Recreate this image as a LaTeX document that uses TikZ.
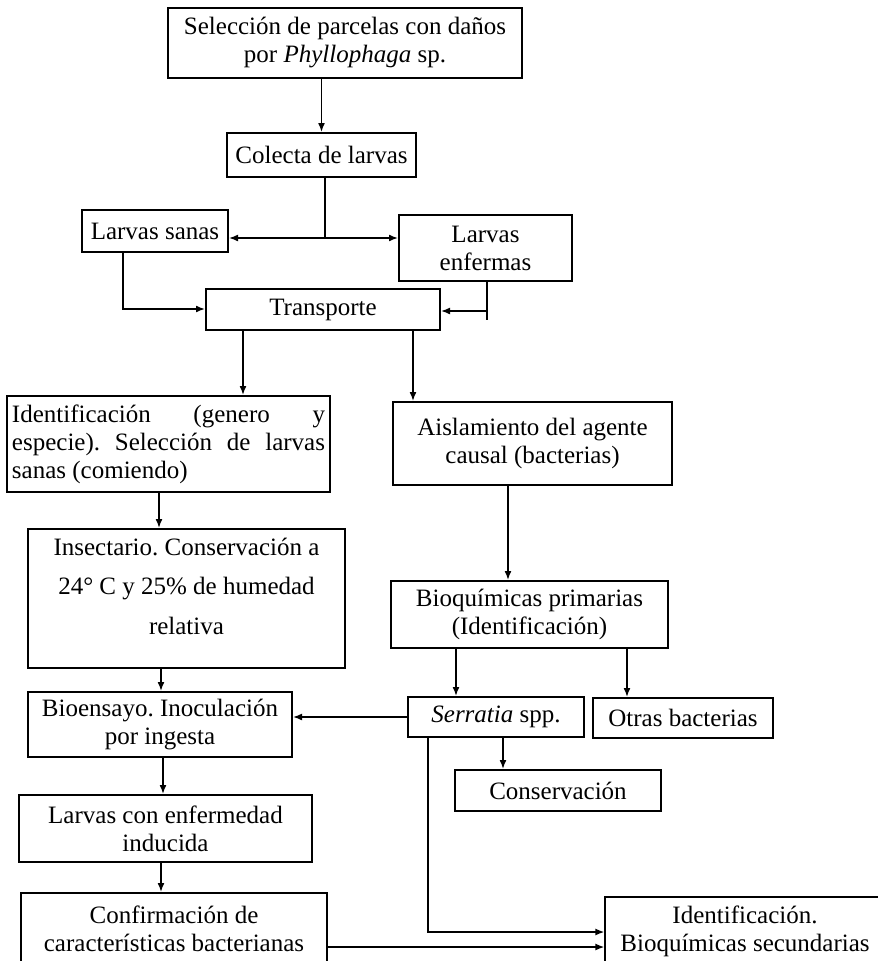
\documentclass[tikz,border=0pt]{standalone}
\usepackage{fontspec}
\setmainfont{Liberation Serif}
\usetikzlibrary{arrows.meta}
\frenchspacing
\begin{document}
\begin{tikzpicture}[x=1pt,y=-1pt,
  box/.style={draw, line width=2pt, inner sep=0pt, align=center, font=\fontsize{25}{28}\selectfont},
  conn/.style={line width=1.6pt},
  arr/.style={conn, -{Latex[length=9pt,width=7pt]}}]
\useasboundingbox (0,0) rectangle (878,961);
\fill[white] (0,0) rectangle (878,961);

\node[box, minimum width=354pt, minimum height=70pt] (sel) at (345,43) {Selección de parcelas con daños\\por \textit{Phyllophaga} sp.};
\node[box, minimum width=189pt, minimum height=44pt] (col) at (321.5,155) {Colecta de larvas};
\node[box, minimum width=146pt, minimum height=42pt] (san) at (155,231) {Larvas sanas};
\node[box, minimum width=173pt, minimum height=66pt] (enf) at (485.5,248) {Larvas\\enfermas};
\node[box, minimum width=234pt, minimum height=41pt] (tra) at (323,309.5) {Transporte};
\node[box, minimum width=323pt, minimum height=96pt, text width=313pt, align=justify] (ide) at (168.5,444) {Identificación (genero y\linebreak especie). Selección de larvas\linebreak sanas (comiendo)};
\node[box, minimum width=279pt, minimum height=83pt] (ais) at (532.5,443.5) {Aislamiento del agente\\causal (bacterias)};
\node[box] (ins) at (186.5,598.5) {\begin{minipage}[c][139pt][t]{317pt}\centering\fontsize{25}{39.5}\selectfont\vspace*{9pt}Insectario. Conservación a\\24° C y 25\% de humedad\\relativa\end{minipage}};
\node[box, minimum width=277pt, minimum height=67pt] (bpr) at (529.5,614.5) {Bioquímicas primarias\\(Identificación)};
\node[box, minimum width=264pt, minimum height=65pt] (bio) at (160,724.5) {Bioensayo. Inoculación\\por ingesta};
\node[box, minimum width=176pt, minimum height=40pt] (ser) at (496,717) {\textit{Serratia} spp.};
\node[box, minimum width=180pt, minimum height=40pt] (otr) at (683,718) {Otras bacterias};
\node[box, minimum width=206pt, minimum height=41pt] (cns) at (558,790.5) {Conservación};
\node[box, minimum width=293pt, minimum height=67pt] (lce) at (165.5,828.5) {Larvas con enfermedad\\inducida};
\node[box, minimum width=306pt, minimum height=71pt] (cof) at (174,928.5) {Confirmación de\\características bacterianas};
\node[box, line width=1.2pt, minimum width=280pt, minimum height=68pt] (ids) at (745,931) {Identificación.\\Bioquímicas secundarias};

\draw[arr] (col.north |- sel.south) -- (col.north);
\coordinate (j) at (325,238);
\draw[conn] (j |- col.south) -- (j);
\draw[arr] (j) -- (san.east |- j);
\draw[arr] (j) -- (enf.west |- j);
\coordinate (s1) at (123,309);
\draw[arr] (s1 |- san.south) -- (s1) -- (tra.west |- s1);
\coordinate (e2) at (487,320);
\coordinate (e1) at (487,311);
\draw[conn] (e2 |- enf.south) -- (e2);
\draw[arr] (e1) -- (tra.east |- e1);
\coordinate (t1) at (243,0);
\draw[arr] (t1 |- tra.south) -- (t1 |- ide.north);
\coordinate (t2) at (413,0);
\draw[arr] (t2 |- tra.south) -- (t2 |- ais.north);
\coordinate (i1) at (159,0);
\draw[arr] (i1 |- ide.south) -- (i1 |- ins.north);
\coordinate (a1) at (508,0);
\draw[arr] (a1 |- ais.south) -- (a1 |- bpr.north);
\coordinate (i2) at (161,0);
\draw[arr] (i2 |- ins.south) -- (i2 |- bio.north);
\coordinate (b1) at (456,0);
\draw[arr] (b1 |- bpr.south) -- (b1 |- ser.north);
\coordinate (b2) at (627,0);
\draw[arr] (b2 |- bpr.south) -- (b2 |- otr.north);
\draw[arr] (ser.west) -- (bio.east |- ser.west);
\coordinate (c2) at (503,0);
\draw[arr] (c2 |- ser.south) -- (c2 |- cns.north);
\coordinate (b3) at (163,0);
\draw[arr] (b3 |- bio.south) -- (b3 |- lce.north);
\coordinate (l1) at (161,0);
\draw[arr] (l1 |- lce.south) -- (l1 |- cof.north);
\coordinate (s2) at (428,932);
\draw[arr] (s2 |- ser.south) -- (s2) -- (ids.west |- s2);
\coordinate (c1) at (0,947);
\draw[arr] (cof.east |- c1) -- (ids.west |- c1);
\end{tikzpicture}
\end{document}
